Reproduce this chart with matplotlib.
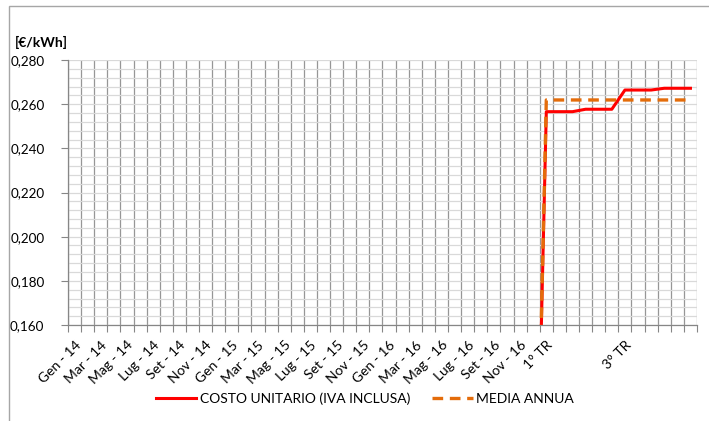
import matplotlib
matplotlib.use("Agg")
import matplotlib.pyplot as plt
from matplotlib.patches import Rectangle
from matplotlib.ticker import MultipleLocator, FixedLocator

plt.rcParams['font.family'] = ['Lato', 'DejaVu Sans']

categories = [
    "Gen - 14", "Feb - 14", "Mar - 14", "Apr - 14", "Mag - 14", "Giu - 14",
    "Lug - 14", "Ago - 14", "Set - 14", "Ott - 14", "Nov - 14", "Dic - 14",
    "Gen - 15", "Feb - 15", "Mar - 15", "Apr - 15", "Mag - 15", "Giu - 15",
    "Lug - 15", "Ago - 15", "Set - 15", "Ott - 15", "Nov - 15", "Dic - 15",
    "Gen - 16", "Feb - 16", "Mar - 16", "Apr - 16", "Mag - 16", "Giu - 16",
    "Lug - 16", "Ago - 16", "Set - 16", "Ott - 16", "Nov - 16", "Dic - 16",
    "1° TR", "", "", "2° TR", "", "", "3° TR", "", "", "4° TR", "", "",
]

costo_unitario = [
    0.0, 0.0, 0.0, 0.0, 0.0, 0.0, 0.0, 0.0, 0.0, 0.0, 0.0, 0.0,
    0.0, 0.0, 0.0, 0.0, 0.0, 0.0, 0.0, 0.0, 0.0, 0.0, 0.0, 0.0,
    0.0, 0.0, 0.0, 0.0, 0.0, 0.0, 0.0, 0.0, 0.0, 0.0, 0.0, 0.0,
    0.2566, 0.2566, 0.2566, 0.2577, 0.2577, 0.2577,
    0.2664, 0.2664, 0.2664, 0.2672, 0.2672, 0.2672,
]

media_annua = [
    0.0, 0.0, 0.0, 0.0, 0.0, 0.0, 0.0, 0.0, 0.0, 0.0, 0.0, 0.0,
    0.0, 0.0, 0.0, 0.0, 0.0, 0.0, 0.0, 0.0, 0.0, 0.0, 0.0, 0.0,
    0.0, 0.0, 0.0, 0.0, 0.0, 0.0, 0.0, 0.0, 0.0, 0.0, 0.0, 0.0,
    0.2619, 0.2619, 0.2619, 0.2619, 0.2619, 0.2619,
    0.2619, 0.2619, 0.2619, 0.2619, 0.2619, 0.2619,
]

y_ticks = [0.160, 0.180, 0.200, 0.220, 0.240, 0.260, 0.280]
y_tick_labels = ["0,160", "0,180", "0,200", "0,220", "0,240", "0,260", "0,280"]

W, H = 709, 421
fig = plt.figure(figsize=(W / 100, H / 100), dpi=100)
ax = fig.add_axes([68 / W, 1 - 325 / H, (697 - 68) / W, (325 - 60) / H])

x = list(range(len(categories)))
ax.plot(x, costo_unitario, color="#FF0000", lw=2.2, solid_joinstyle="round",
        label="COSTO UNITARIO (IVA INCLUSA)", zorder=3)
ax.plot(x, media_annua, color="#E46C0A", lw=2.4, dashes=(3.2, 2.0),
        label="MEDIA ANNUA", zorder=4)

ax.set_xlim(-0.5, len(categories) - 0.5)
ax.set_ylim(0.160, 0.280)

# y axis
ax.set_yticks(y_ticks)
ax.set_yticklabels(y_tick_labels)
ax.yaxis.set_minor_locator(MultipleLocator(0.004))
ax.tick_params(axis="y", which="major", length=5, width=0.8, color="#868686",
               pad=12, labelsize=9.7, labelcolor="black")
ax.tick_params(axis="y", which="minor", length=0)

# x axis
label_pos = x[::2]
ax.set_xticks(label_pos)
ax.set_xticklabels([categories[i] for i in label_pos], rotation=45,
                   ha="right", va="top", rotation_mode="anchor")
ax.xaxis.set_minor_locator(FixedLocator([i - 0.5 for i in range(len(categories) + 1)]))
ax.tick_params(axis="x", which="major", length=0, pad=10, labelsize=10)
ax.tick_params(axis="x", which="minor", length=5, width=0.8, color="#868686")

ax.grid(False)
ax.grid(axis="y", which="both", color="#D9D9D9", lw=0.9, zorder=0)
ax.grid(axis="x", which="minor", color="#969696", lw=0.9, zorder=0)
ax.set_axisbelow(True)

for side in ("top", "right"):
    ax.spines[side].set_visible(False)
for side in ("left", "bottom"):
    ax.spines[side].set_color("#868686")
    ax.spines[side].set_linewidth(0.9)

fig.text(15 / W, 1 - 42 / H, "[€/kWh]", fontsize=10, fontweight="bold",
         ha="left", va="center")

fig.legend(loc="center", bbox_to_anchor=(365 / W, 1 - 399 / H), ncol=2,
           frameon=False, fontsize=10, handlelength=2.9, handletextpad=0.25,
           columnspacing=1.6)

# chart border
fig.patches.append(Rectangle((9 / W, -0.1), 1.2, 1 - 6 / H + 0.1,
                             transform=fig.transFigure, fill=False,
                             edgecolor="#A6A6A6", lw=1.0))

fig.savefig("out.png", dpi=100)
